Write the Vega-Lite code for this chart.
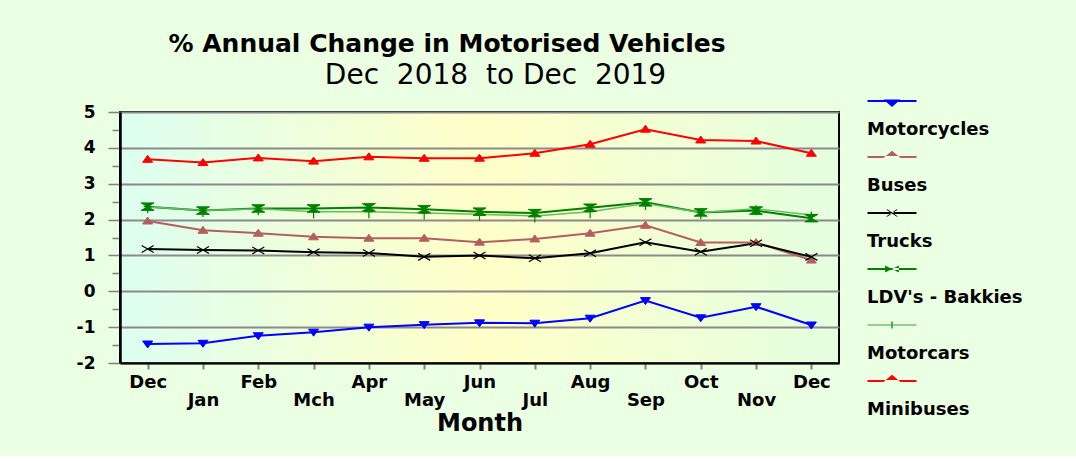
{
  "$schema": "https://vega.github.io/schema/vega-lite/v6.json",
  "background": "#ebffe3",
  "padding": {"left": 75, "top": 32, "right": 54, "bottom": 20},
  "title": {"text": "% Annual Change in Motorised Vehicles", "font": "DejaVu Sans", "fontSize": 25, "fontWeight": "bold", "color": "black", "anchor": "middle", "dx": -102, "offset": 4},
  "data": {"values": [
    {"series": "Motorcycles", "month": "Dec 2018", "value": -1.47},
    {"series": "Motorcycles", "month": "Jan", "value": -1.45},
    {"series": "Motorcycles", "month": "Feb", "value": -1.24},
    {"series": "Motorcycles", "month": "Mch", "value": -1.14},
    {"series": "Motorcycles", "month": "Apr", "value": -1.00},
    {"series": "Motorcycles", "month": "May", "value": -0.93},
    {"series": "Motorcycles", "month": "Jun", "value": -0.88},
    {"series": "Motorcycles", "month": "Jul", "value": -0.89},
    {"series": "Motorcycles", "month": "Aug", "value": -0.75},
    {"series": "Motorcycles", "month": "Sep", "value": -0.26},
    {"series": "Motorcycles", "month": "Oct", "value": -0.74},
    {"series": "Motorcycles", "month": "Nov", "value": -0.43},
    {"series": "Motorcycles", "month": "Dec 2019", "value": -0.94},
    {"series": "Buses", "month": "Dec 2018", "value": 1.96},
    {"series": "Buses", "month": "Jan", "value": 1.70},
    {"series": "Buses", "month": "Feb", "value": 1.62},
    {"series": "Buses", "month": "Mch", "value": 1.52},
    {"series": "Buses", "month": "Apr", "value": 1.48},
    {"series": "Buses", "month": "May", "value": 1.48},
    {"series": "Buses", "month": "Jun", "value": 1.37},
    {"series": "Buses", "month": "Jul", "value": 1.46},
    {"series": "Buses", "month": "Aug", "value": 1.62},
    {"series": "Buses", "month": "Sep", "value": 1.84},
    {"series": "Buses", "month": "Oct", "value": 1.36},
    {"series": "Buses", "month": "Nov", "value": 1.36},
    {"series": "Buses", "month": "Dec 2019", "value": 0.87},
    {"series": "Trucks", "month": "Dec 2018", "value": 1.18},
    {"series": "Trucks", "month": "Jan", "value": 1.15},
    {"series": "Trucks", "month": "Feb", "value": 1.14},
    {"series": "Trucks", "month": "Mch", "value": 1.09},
    {"series": "Trucks", "month": "Apr", "value": 1.07},
    {"series": "Trucks", "month": "May", "value": 0.96},
    {"series": "Trucks", "month": "Jun", "value": 1.00},
    {"series": "Trucks", "month": "Jul", "value": 0.92},
    {"series": "Trucks", "month": "Aug", "value": 1.06},
    {"series": "Trucks", "month": "Sep", "value": 1.37},
    {"series": "Trucks", "month": "Oct", "value": 1.10},
    {"series": "Trucks", "month": "Nov", "value": 1.34},
    {"series": "Trucks", "month": "Dec 2019", "value": 0.96},
    {"series": "LDV's - Bakkies", "month": "Dec 2018", "value": 2.36},
    {"series": "LDV's - Bakkies", "month": "Jan", "value": 2.25},
    {"series": "LDV's - Bakkies", "month": "Feb", "value": 2.31},
    {"series": "LDV's - Bakkies", "month": "Mch", "value": 2.31},
    {"series": "LDV's - Bakkies", "month": "Apr", "value": 2.34},
    {"series": "LDV's - Bakkies", "month": "May", "value": 2.29},
    {"series": "LDV's - Bakkies", "month": "Jun", "value": 2.22},
    {"series": "LDV's - Bakkies", "month": "Jul", "value": 2.18},
    {"series": "LDV's - Bakkies", "month": "Aug", "value": 2.33},
    {"series": "LDV's - Bakkies", "month": "Sep", "value": 2.48},
    {"series": "LDV's - Bakkies", "month": "Oct", "value": 2.20},
    {"series": "LDV's - Bakkies", "month": "Nov", "value": 2.25},
    {"series": "LDV's - Bakkies", "month": "Dec 2019", "value": 2.04},
    {"series": "Motorcars", "month": "Dec 2018", "value": 2.36},
    {"series": "Motorcars", "month": "Jan", "value": 2.25},
    {"series": "Motorcars", "month": "Feb", "value": 2.30},
    {"series": "Motorcars", "month": "Mch", "value": 2.22},
    {"series": "Motorcars", "month": "Apr", "value": 2.22},
    {"series": "Motorcars", "month": "May", "value": 2.18},
    {"series": "Motorcars", "month": "Jun", "value": 2.15},
    {"series": "Motorcars", "month": "Jul", "value": 2.10},
    {"series": "Motorcars", "month": "Aug", "value": 2.22},
    {"series": "Motorcars", "month": "Sep", "value": 2.45},
    {"series": "Motorcars", "month": "Oct", "value": 2.20},
    {"series": "Motorcars", "month": "Nov", "value": 2.30},
    {"series": "Motorcars", "month": "Dec 2019", "value": 2.13},
    {"series": "Minibuses", "month": "Dec 2018", "value": 3.68},
    {"series": "Minibuses", "month": "Jan", "value": 3.59},
    {"series": "Minibuses", "month": "Feb", "value": 3.72},
    {"series": "Minibuses", "month": "Mch", "value": 3.63},
    {"series": "Minibuses", "month": "Apr", "value": 3.75},
    {"series": "Minibuses", "month": "May", "value": 3.71},
    {"series": "Minibuses", "month": "Jun", "value": 3.71},
    {"series": "Minibuses", "month": "Jul", "value": 3.85},
    {"series": "Minibuses", "month": "Aug", "value": 4.10},
    {"series": "Minibuses", "month": "Sep", "value": 4.52},
    {"series": "Minibuses", "month": "Oct", "value": 4.22},
    {"series": "Minibuses", "month": "Nov", "value": 4.19},
    {"series": "Minibuses", "month": "Dec 2019", "value": 3.85}
  ]},
  "vconcat": [
    {
      "title": {"text": "Dec\u00a0\u00a02018\u00a0\u00a0to Dec\u00a0\u00a02019", "font": "DejaVu Sans", "fontSize": 28, "fontWeight": "normal", "color": "black", "anchor": "middle", "dx": 16, "offset": 13},
      "width": 719,
      "height": 251,
      "encoding": {
        "x": {"field": "month", "type": "ordinal",
          "sort": ["Dec 2018", "Jan", "Feb", "Mch", "Apr", "May", "Jun", "Jul", "Aug", "Sep", "Oct", "Nov", "Dec 2019"],
          "scale": {"type": "point", "padding": 0.5},
          "axis": {
            "title": "Month", "titleFont": "DejaVu Sans", "titleFontSize": 24, "titleFontWeight": "bold", "titleColor": "black", "titlePadding": 2,
            "labelExpr": "slice(datum.label, 0, 3)", "labelAngle": 0, "labelOverlap": false,
            "labelFont": "DejaVu Sans", "labelFontSize": 18, "labelFontWeight": "bold", "labelColor": "black",
            "labelPadding": {"condition": {"test": "indexof(['Jan','Mch','May','Jul','Sep','Nov'], datum.value) >= 0", "value": 22}, "value": 4},
            "tickColor": "#808080", "tickWidth": 2, "tickSize": 6, "domainColor": "black", "domainWidth": 2, "grid": false
          }
        },
        "y": {"field": "value", "type": "quantitative",
          "scale": {"domain": [-2, 5], "nice": false, "zero": false},
          "axis": {
            "title": null,
            "values": [-2, -1.5, -1, -0.5, 0, 0.5, 1, 1.5, 2, 2.5, 3, 3.5, 4, 4.5, 5],
            "labelExpr": "datum.value % 1 === 0 ? '' + datum.value : ''",
            "grid": true, "gridColor": "#8a8a8a", "gridWidth": 2,
            "gridOpacity": {"condition": {"test": "datum.value % 1 !== 0", "value": 0}, "value": 1},
            "tickColor": "#808080", "tickWidth": 1.5,
            "tickSize": {"condition": {"test": "datum.value % 1 !== 0", "value": 8}, "value": 12},
            "domainColor": "black", "domainWidth": 2.5,
            "labelFont": "DejaVu Sans", "labelFontWeight": "bold", "labelFontSize": 17, "labelColor": "black", "labelPadding": 13
          }
        }
      },
      "layer": [
        {
          "transform": [{"filter": "datum.series !== 'Motorcars'"}],
          "mark": {"type": "line", "strokeWidth": 2},
          "encoding": {
            "stroke": {"field": "series", "type": "nominal",
              "scale": {"domain": ["Motorcycles", "Buses", "Trucks", "LDV's - Bakkies", "Motorcars", "Minibuses"],
                        "range": ["#0000ff", "#b45f5f", "#000000", "#008000", "#66bb66", "#ff0000"]}}
          }
        },
        {
          "transform": [{"filter": "datum.series === 'Motorcars'"}],
          "mark": {"type": "line", "strokeWidth": 1.5},
          "encoding": {
            "stroke": {"field": "series", "type": "nominal"}
          }
        },
        {
          "transform": [{"filter": "datum.series === 'Motorcycles'"}],
          "mark": {"type": "point", "shape": "M-1,-0.6L1,-0.6L0,0.8Z", "filled": true, "fill": "#0000ff", "stroke": "#0000ff", "strokeWidth": 1, "size": 100, "opacity": 1}
        },
        {
          "transform": [{"filter": "datum.series === 'Buses'"}],
          "mark": {"type": "point", "shape": "M-1,0.6L1,0.6L0,-0.8Z", "filled": true, "fill": "#b45f5f", "stroke": "#b45f5f", "strokeWidth": 1, "size": 100, "opacity": 1}
        },
        {
          "transform": [{"filter": "datum.series === 'Trucks'"}],
          "mark": {"type": "point", "shape": "M-1.2,-0.7L1.2,0.7M-1.2,0.7L1.2,-0.7", "filled": false, "stroke": "#000000", "strokeWidth": 1.2, "size": 100, "opacity": 1}
        },
        {
          "transform": [{"filter": "datum.series === \"LDV's - Bakkies\""}],
          "mark": {"type": "point", "shape": "M-1.3,-0.75H1.3L0,0L1.3,0.75H-1.3L0,0Z", "filled": true, "fill": "#008000", "stroke": "#008000", "strokeWidth": 1, "size": 100, "opacity": 1}
        },
        {
          "transform": [{"filter": "datum.series === 'Motorcars'"}],
          "mark": {"type": "point", "shape": "M-0.8,0H0.8M0,-0.7V1.3", "filled": false, "stroke": "#008000", "strokeWidth": 1.2, "size": 100, "opacity": 1}
        },
        {
          "transform": [{"filter": "datum.series === 'Minibuses'"}],
          "mark": {"type": "point", "shape": "M-1,0.6L1,0.6L0,-0.8Z", "filled": true, "fill": "#ff0000", "stroke": "#ff0000", "strokeWidth": 1, "size": 100, "opacity": 1}
        },
        {
          "mark": {"type": "point", "filled": true, "opacity": 0},
          "encoding": {
            "color": {"field": "series", "type": "nominal",
              "scale": {"domain": ["Motorcycles", "Buses", "Trucks", "LDV's - Bakkies", "Motorcars", "Minibuses"],
                        "range": ["#0000ff", "#b45f5f", "#000000", "#008000", "#3fa03f", "#ff0000"]},
              "legend": {
                "orient": "none", "legendX": 757, "legendY": -26, "title": null,
                "symbolSize": 900, "symbolOpacity": 1, "symbolStrokeWidth": 0, "rowPadding": 3, "labelOffset": -40, "labelLimit": 300,
                "labelExpr": "['', datum.label]", "labelBaseline": "top", "labelAlign": "left",
                "labelFont": "DejaVu Sans", "labelFontSize": 18, "labelFontWeight": "bold", "labelColor": "black"
              }
            },
            "shape": {"field": "series", "type": "nominal",
              "scale": {"domain": ["Motorcycles", "Buses", "Trucks", "LDV's - Bakkies", "Motorcars", "Minibuses"],
                        "range": [
                          "M-1.633,-0.065H1.633V0.065H-1.633ZM-0.572,-0.098H0.572L0,0.392Z",
                          "M-1.633,-0.065H1.633V0.065H-1.633ZM-0.572,0.065H0.572L0,-0.425Z",
                          "M-1.633,-0.065H1.633V0.065H-1.633ZM-0.392,-0.229L-0.294,-0.229L0.392,0.229L0.294,0.229ZM-0.392,0.229L-0.294,0.229L0.392,-0.229L0.294,-0.229Z",
                          "M-1.633,-0.065H1.633V0.065H-1.633ZM-0.457,-0.229L0.457,0.229L0.457,-0.229L-0.457,0.229Z",
                          "M-1.633,-0.041H1.633V0.041H-1.633ZM-0.057,-0.229H0.057V0.229H-0.057Z",
                          "M-1.633,-0.065H1.633V0.065H-1.633ZM-0.572,0.065H0.572L0,-0.425Z"
                        ]},
              "legend": {
                "orient": "none", "legendX": 757, "legendY": -26, "title": null,
                "symbolSize": 900, "symbolOpacity": 1, "symbolStrokeWidth": 0, "rowPadding": 3, "labelOffset": -40, "labelLimit": 300,
                "labelExpr": "['', datum.label]", "labelBaseline": "top", "labelAlign": "left",
                "labelFont": "DejaVu Sans", "labelFontSize": 18, "labelFontWeight": "bold", "labelColor": "black"
              }
            }
          }
        }
      ]
    }
  ],
  "config": {
    "font": "DejaVu Sans",
    "view": {"stroke": "black", "strokeWidth": 2,
      "fill": {"gradient": "linear", "x1": 0, "y1": 0, "x2": 1, "y2": 0,
        "stops": [{"offset": 0, "color": "#ddfff0"}, {"offset": 0.5, "color": "#ffffc8"}, {"offset": 1, "color": "#e4ffe0"}]}}
  }
}
